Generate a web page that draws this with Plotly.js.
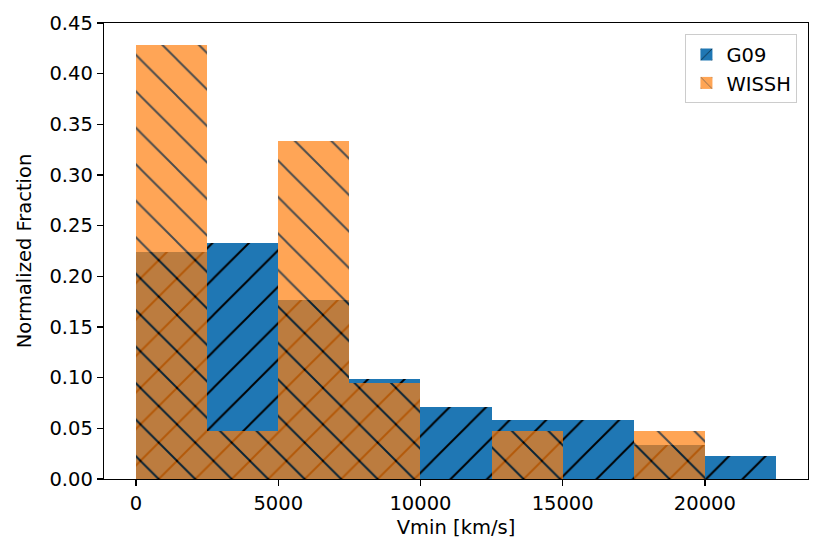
<!DOCTYPE html>
<html>
<head>
<meta charset="utf-8">
<script src="https://cdn.plot.ly/plotly-3.0.1.min.js"></script>
<style>
  html, body { margin: 0; padding: 0; background: #fff; }
  #chart { width: 830px; height: 558px; }
</style>
</head>
<body>
<div id="chart"></div>
<script>
// histogram bins of 2500 km/s, starting at 0
var binStart = [0, 2500, 5000, 7500, 10000, 12500, 15000, 17500, 20000];
var binWidth = 2500;
var g09 = [0.2243, 0.2326, 0.1767, 0.0987, 0.0711, 0.0579, 0.0579, 0.0332, 0.0230];
var wissh = [0.4286, 0.0476, 0.3333, 0.0952, 0, 0.0476, 0, 0.0476, 0];

var xTicks = [0, 5000, 10000, 15000, 20000];
var yTicks = [0, 0.05, 0.10, 0.15, 0.20, 0.25, 0.30, 0.35, 0.40, 0.45];

var centers = binStart.map(function (b) { return b + binWidth / 2; });

chart = document.getElementById("chart");

var data = [
  {
    type: 'bar',
    name: 'G09',
    x: centers,
    y: g09,
    width: binWidth,
    marker: {
      color: '#1f77b4',
      line: {width: 0},
      pattern: {shape: '/', size: 25.8, solidity: 0.075, fgcolor: '#000000', bgcolor: '#1f77b4', fillmode: 'replace'}
    }
  },
  {
    type: 'bar',
    name: 'WISSH',
    x: centers,
    y: wissh,
    width: binWidth,
    opacity: 0.7,
    marker: {
      color: '#ff7f0e',
      line: {width: 0},
      pattern: {shape: '\\', size: 25.8, solidity: 0.075, fgcolor: '#000000', bgcolor: '#ff7f0e', fillmode: 'replace'}
    }
  }
];

var axisFont = {family: 'DejaVu Sans', size: 19.5, color: '#000'};

var layout = {
  barmode: 'overlay',
  bargap: 0,
  width: 830,
  height: 558,
  margin: {l: 104, r: 22, t: 23, b: 79, pad: 0},
  paper_bgcolor: '#fff',
  plot_bgcolor: '#fff',
  font: axisFont,
  showlegend: true,
  legend: {
    x: 0.985, y: 0.975, xanchor: 'right', yanchor: 'top',
    bordercolor: '#cccccc', borderwidth: 1, bgcolor: 'rgba(255,255,255,0.8)',
    font: axisFont
  },
  xaxis: {
    range: [-1125, 23625],
    tickvals: xTicks,
    ticktext: xTicks.map(String),
    ticks: 'outside', ticklen: 6, tickwidth: 1.3, tickcolor: '#000',
    showline: true, linecolor: '#000', linewidth: 1.3, mirror: true,
    showgrid: false, zeroline: false,
    title: {text: 'Vmin [km/s]', font: axisFont, standoff: 6}
  },
  yaxis: {
    range: [0, 0.45],
    tickvals: yTicks,
    tickformat: '.2f',
    ticks: 'outside', ticklen: 6, tickwidth: 1.3, tickcolor: '#000',
    showline: true, linecolor: '#000', linewidth: 1.3, mirror: true,
    showgrid: false, zeroline: false,
    title: {text: 'Normalized Fraction', font: axisFont, standoff: 12}
  }
};

Plotly.newPlot(chart, data, layout, {displayModeBar: false, staticPlot: true});
</script>
</body>
</html>
